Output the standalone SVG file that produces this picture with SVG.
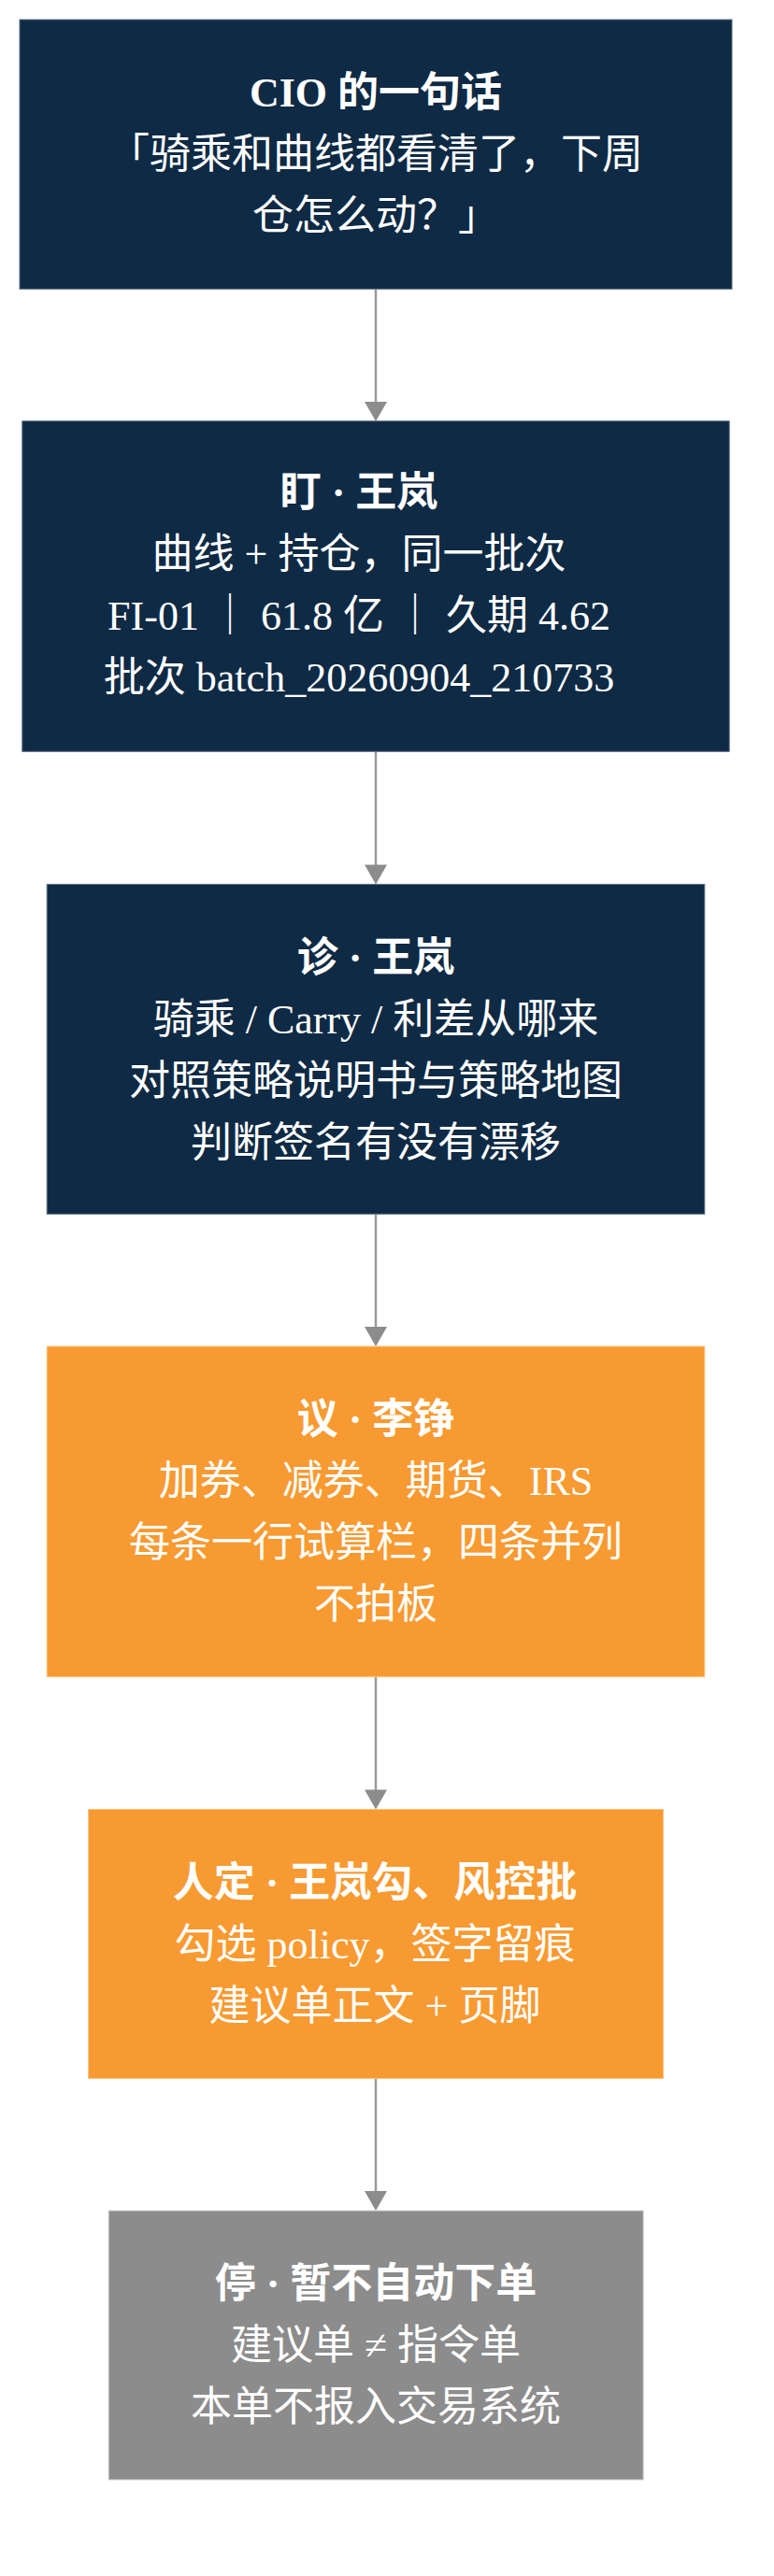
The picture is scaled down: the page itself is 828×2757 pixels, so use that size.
<svg xmlns="http://www.w3.org/2000/svg" width="828" height="2757" viewBox="0 0 828 2757">
<style>
text{font-family:"Liberation Serif","Noto Sans CJK SC",serif;font-size:44px;fill:#ffffff;text-anchor:middle}
.t{font-weight:bold}
.navy{fill:#0f2a44;stroke:#5a6d82;stroke-width:1}
.orange{fill:#f79a31;stroke:#fbc27e;stroke-width:1}
.gray{fill:#8c8c8c;stroke:#d2d2d2;stroke-width:1}
.edge{stroke:#9a9a9a;stroke-width:2.5;fill:none}
.head{fill:#8c8c8c}
</style>
<rect width="828" height="2757" fill="#ffffff"/>
<g id="connectors">
<line class="edge" x1="402" y1="309.5" x2="402" y2="432"/>
<polygon class="head" points="390,430 414,430 402,451"/>
<line class="edge" x1="402" y1="804.5" x2="402" y2="927"/>
<polygon class="head" points="390,925.5 414,925.5 402,946.5"/>
<line class="edge" x1="402" y1="1299.5" x2="402" y2="1422"/>
<polygon class="head" points="390,1420 414,1420 402,1441"/>
<line class="edge" x1="402" y1="1795" x2="402" y2="1917"/>
<polygon class="head" points="390,1915.5 414,1915.5 402,1936.5"/>
<line class="edge" x1="402" y1="2224.5" x2="402" y2="2347"/>
<polygon class="head" points="390,2345 414,2345 402,2366"/>
</g>
<g id="node-cio">
<rect class="navy" x="21" y="21" width="762" height="288.3"/>
<text class="t" x="402" y="114">CIO 的一句话</text>
<text x="402" y="180">「骑乘和曲线都看清了，下周</text>
<text x="402" y="246">仓怎么动？」</text>
</g>
<g id="node-watch">
<rect class="navy" x="23.8" y="450.7" width="756.4" height="353.6"/>
<text class="t" x="384" y="541.5">盯 · 王岚</text>
<text x="384" y="607.5">曲线 + 持仓，同一批次</text>
<text x="384" y="673.5">FI-01 ｜ 61.8 亿 ｜ 久期 4.62</text>
<text x="384" y="739.5">批次 batch_20260904_210733</text>
</g>
<g id="node-diagnose">
<rect class="navy" x="50.2" y="946.4" width="703.6" height="352.9"/>
<text class="t" x="402" y="1039.5">诊 · 王岚</text>
<text x="402" y="1105.5">骑乘 / Carry / 利差从哪来</text>
<text x="402" y="1171.5">对照策略说明书与策略地图</text>
<text x="402" y="1237.5">判断签名有没有漂移</text>
</g>
<g id="node-discuss">
<rect class="orange" x="50.2" y="1441" width="703.6" height="353.6"/>
<text class="t" x="402" y="1534">议 · 李铮</text>
<text x="402" y="1600">加券、减券、期货、IRS</text>
<text x="402" y="1666">每条一行试算栏，四条并列</text>
<text x="402" y="1732">不拍板</text>
</g>
<g id="node-decide">
<rect class="orange" x="94.6" y="1936.5" width="615" height="288"/>
<text class="t" x="401" y="2029.5">人定 · 王岚勾、风控批</text>
<text x="401" y="2095.5">勾选 policy，签字留痕</text>
<text x="401" y="2161.5">建议单正文 + 页脚</text>
</g>
<g id="node-stop">
<rect class="gray" x="116.2" y="2366" width="572" height="288"/>
<text class="t" x="402" y="2459">停 · 暂不自动下单</text>
<text x="402" y="2525">建议单 ≠ 指令单</text>
<text x="402" y="2591">本单不报入交易系统</text>
</g>
</svg>
